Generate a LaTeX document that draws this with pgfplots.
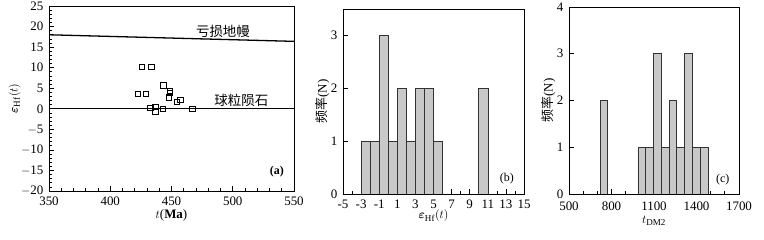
\documentclass[border=0pt]{standalone}
\usepackage{amsmath}
\usepackage{pgfplots}
\pgfplotsset{compat=1.18}
\usepackage{fontspec}
\setmainfont{Liberation Serif}
\newfontfamily\cjk{Noto Sans CJK SC}

\definecolor{barfill}{RGB}{200,200,200}

\pgfplotsset{
  panel/.style={
    scale only axis,
    axis line style={line width=1pt},
    tick align=inside,
    xtick pos=bottom, ytick pos=left,
    major tick length=5bp, minor tick length=3bp,
    tick style={black, line width=0.7pt},
    /pgf/number format/assume math mode=true,
    /pgf/number format/1000 sep={},
    tick label style={font=\fontsize{13}{14}\selectfont, inner sep=1bp},
    xticklabel style={yshift=-4.5bp},
    yticklabel style={xshift=-4.5bp},
    label style={font=\fontsize{13}{14}\selectfont},
  },
  histbar/.style={ybar interval, fill=barfill, draw=black!80, line width=0.6pt},
}

\begin{document}
\begin{tikzpicture}
\useasboundingbox (0,0) rectangle (764bp,240bp);

% (a) epsilon_Hf(t) vs age
\begin{axis}[panel,
  at={(49bp,49bp)}, anchor=south west,
  width=245bp, height=185bp,
  xmin=350, xmax=550, ymin=-20, ymax=25,
  xtick={350,400,...,550}, minor x tick num=4,
  ytick={-20,-15,...,25}, minor y tick num=4,
  xticklabels={350,400,450,500,550},
  yticklabels={$-$20,$-$15,$-$10,$-$5,0,5,10,15,20,25},
  xlabel={$t$(\textbf{Ma})},
  ylabel={$\boldsymbol{\varepsilon}_{\mathrm{Hf}}(t)$},
  xlabel style={yshift=0bp},
  ylabel style={yshift=-4bp},
]
\addplot[black, line width=1.3pt] coordinates {(350,18.0) (550,16.4)};
\addplot[black, line width=0.8pt] coordinates {(350,0) (550,0)};
\addplot[only marks, mark=square, mark size=2.6bp, mark options={black, line width=0.7pt}]
  coordinates {
  (425.9,10.2) (433.5,10.2) (422.6,3.6) (429.2,3.6) (443.3,5.7)
  (448.8,4.4) (448.8,3.9) (448.0,2.8) (454.2,1.7) (457.2,2.1)
  (432.7,0.2) (436.8,0.5) (436.8,-0.7) (442.8,-0.1) (467.0,-0.1)
  };
\node[font=\cjk\fontsize{13.5}{14}\selectfont] at (axis cs:492,18.9) {亏损地幔};
\node[font=\cjk\fontsize{13.5}{14}\selectfont] at (axis cs:507,2.0) {球粒陨石};
\node[font=\bfseries\fontsize{12}{13}\selectfont] at (axis cs:536,-15.4) {(a)};
\end{axis}

% (b) histogram of epsilon_Hf(t)
\begin{axis}[panel,
  at={(343bp,46bp)}, anchor=south west,
  width=181bp, height=185bp,
  xmin=-5, xmax=15, ymin=0, ymax=3.5,
  xtick={-5,-3,...,15}, minor x tick num=1,
  ytick={0,1,2,3},
  xticklabels={-5,-3,-1,1,3,5,7,9,11,13,15},
  xlabel={$\boldsymbol{\varepsilon}_{\mathrm{Hf}}(t)$},
  ylabel={\cjk 频率\rmfamily(N)},
  xlabel style={yshift=3bp},
  ylabel style={yshift=-3bp},
]
\addplot[histbar] coordinates {
  (-3,1) (-2,1) (-1,3) (0,1) (1,2) (2,1) (3,2) (4,2) (5,1) (6,0)
};
\addplot[histbar] coordinates {(10,2) (11,0)};
\node[font=\fontsize{12}{13}\selectfont] at (axis cs:13.1,0.3) {(b)};
\end{axis}

% (c) histogram of t_DM2
\begin{axis}[panel,
  at={(569bp,46bp)}, anchor=south west,
  width=170bp, height=187bp,
  xmin=500, xmax=1700, ymin=0, ymax=4,
  xtick={500,800,1100,1400,1700}, minor x tick num=2,
  ytick={0,1,2,3,4},
  xticklabel style={yshift=-2bp},
  xlabel={$t_{\mathrm{DM2}}$},
  ylabel={\cjk 频率\rmfamily(N)},
  xlabel style={yshift=-1bp},
  ylabel style={yshift=-3bp},
]
\addplot[histbar] coordinates {(719,2) (771,0)};
\addplot[histbar] coordinates {
  (987,1) (1042,1) (1096,3) (1151,1) (1206,2) (1260,1)
  (1315,3) (1370,1) (1424,1) (1481,0)
};
\node[font=\fontsize{12}{13}\selectfont] at (axis cs:1585,0.3) {(c)};
\end{axis}
\end{tikzpicture}
\end{document}
